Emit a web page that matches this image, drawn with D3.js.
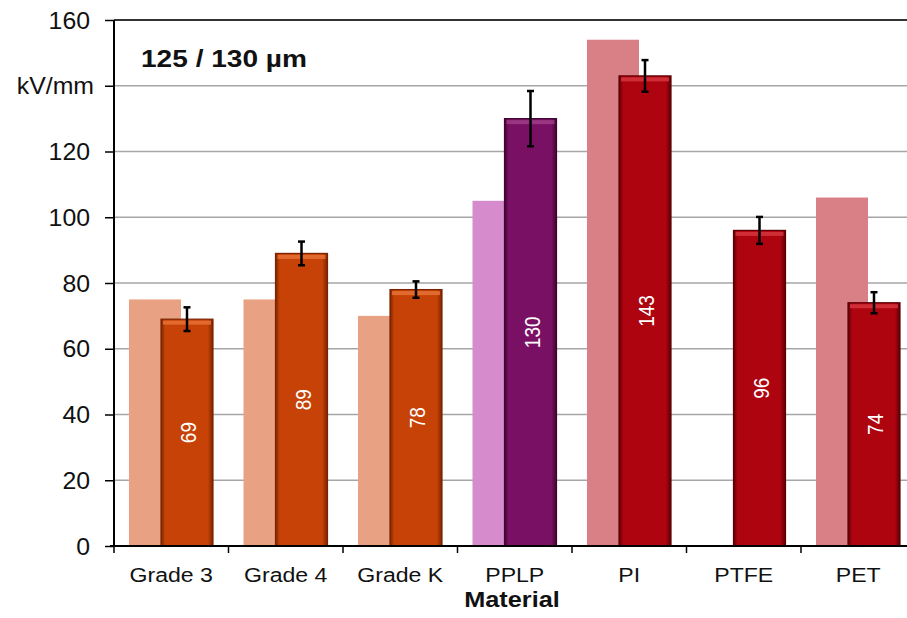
<!DOCTYPE html>
<html><head><meta charset="utf-8">
<script src="https://cdn.jsdelivr.net/npm/d3@7"></script>
<style>body{margin:0;background:#fff}svg{display:block}text{font-family:"Liberation Sans",Arial,sans-serif}</style>
</head><body><svg id="c" width="907" height="618"></svg>
<script>
const categories = ["Grade 3","Grade 4","Grade K","PPLP","PI","PTFE","PET"];
const refValues = [75,75,70,105,154,null,106];
const values = [69,89,78,130,143,96,74];
const errors = [3.6,3.6,2.5,8.4,4.8,4.1,3.2];
const yTicks = [0,20,40,60,80,100,120,140,160];
const yTickLabels = ["0","20","40","60","80","100","120","kV/mm","160"];
const groups = ["grade","grade","grade","pplp","red","red","red"];
const palette = {
  grade:{light:"#e8a283",dark:"#c64206",edge:"#7a2402",hi:"#e8743a"},
  pplp:{light:"#d68bcc",dark:"#7a1064",edge:"#40052f",hi:"#a04088"},
  red:{light:"#d97f86",dark:"#ad0410",edge:"#5c0006",hi:"#d83a40"}
};

const svg = d3.select("#c");
const x = d3.scaleBand().domain(categories).range([114, 114+7*114.5]).padding(0);
const y = d3.scaleLinear().domain([0,160]).range([546,20]);

const defs = svg.append("defs");
Object.entries(palette).forEach(([k,p])=>{
  const g = defs.append("linearGradient").attr("id","g_"+k).attr("x1","0").attr("x2","1").attr("y1","0").attr("y2","0");
  g.append("stop").attr("offset","0").attr("stop-color",p.edge);
  g.append("stop").attr("offset","0.08").attr("stop-color",p.dark);
  g.append("stop").attr("offset","0.9").attr("stop-color",p.dark);
  g.append("stop").attr("offset","1").attr("stop-color",p.edge);
});

// gridlines
svg.append("g").selectAll("line").data(yTicks.filter(d=>d>0 && d<160)).join("line")
  .attr("x1",114).attr("x2",907).attr("y1",d=>y(d)).attr("y2",d=>y(d))
  .attr("stroke","#a6a6a6").attr("stroke-width",1.5);
svg.append("line").attr("x1",114).attr("x2",907).attr("y1",y(160)).attr("y2",y(160))
  .attr("stroke","#333").attr("stroke-width",2);

const bw = 52;
// reference bars
svg.append("g").selectAll("rect").data(categories.map((c,i)=>({c,v:refValues[i],g:groups[i]})).filter(d=>d.v!=null)).join("rect")
  .attr("x",d=>x(d.c)+15).attr("width",bw).attr("y",d=>y(d.v)).attr("height",d=>y(0)-y(d.v))
  .attr("fill",d=>palette[d.g].light);

// main bars
const data = categories.map((c,i)=>({c,v:values[i],e:errors[i],g:groups[i]}));
const bars = svg.append("g").selectAll("g").data(data).join("g");
bars.append("rect").attr("x",d=>x(d.c)+47).attr("width",bw).attr("y",d=>y(d.v)).attr("height",d=>y(0)-y(d.v))
  .attr("fill",d=>`url(#g_${d.g})`).attr("stroke",d=>palette[d.g].edge).attr("stroke-width",1.2);
bars.append("rect").attr("x",d=>x(d.c)+49).attr("width",bw-4).attr("y",d=>y(d.v)+1.5).attr("height",4)
  .attr("fill",d=>palette[d.g].hi).attr("opacity",0.8);
bars.append("text").attr("transform",d=>`translate(${x(d.c)+47+bw/2+9},${y(d.v/2)}) rotate(-90) scale(1,1.2)`)
  .attr("text-anchor","middle").attr("fill","#fff").attr("font-size",19).text(d=>d.v);

// error bars
const eb = svg.append("g").attr("stroke","#000").attr("stroke-width",2.5);
data.forEach(d=>{
  const cx = x(d.c)+47+bw/2;
  eb.append("line").attr("x1",cx).attr("x2",cx).attr("y1",y(d.v+d.e)).attr("y2",y(d.v-d.e));
  eb.append("line").attr("x1",cx-3.5).attr("x2",cx+3.5).attr("y1",y(d.v+d.e)).attr("y2",y(d.v+d.e));
  eb.append("line").attr("x1",cx-3.5).attr("x2",cx+3.5).attr("y1",y(d.v-d.e)).attr("y2",y(d.v-d.e));
});

// y axis
const ya = svg.append("g").attr("transform","translate(114,0)")
  .call(d3.axisLeft(y).tickValues(yTicks).tickSize(9).tickPadding(0).tickFormat((d,i)=>yTickLabels[i]));
ya.select(".domain").attr("stroke","#000").attr("stroke-width",2).attr("d","M0,20V546");
ya.selectAll(".tick line").attr("stroke","#000").attr("stroke-width",1.5);
ya.selectAll(".tick text").attr("font-size",23).attr("fill","#111").attr("font-family","Liberation Sans, Arial, sans-serif")
  .attr("x",null).attr("dy",null).attr("transform",(d,i)=>`translate(${yTickLabels[i]==="kV/mm"?-20:-24},${8})scale(1.08,1)`);

// x axis
svg.append("line").attr("x1",110).attr("x2",907).attr("y1",546).attr("y2",546).attr("stroke","#000").attr("stroke-width",2);
svg.append("g").selectAll("line").data(d3.range(8)).join("line")
  .attr("x1",i=>114+i*x.bandwidth()).attr("x2",i=>114+i*x.bandwidth()).attr("y1",546).attr("y2",553)
  .attr("stroke","#000").attr("stroke-width",1.5);
svg.append("g").selectAll("text").data(categories).join("text")
  .attr("transform",d=>`translate(${x(d)+x.bandwidth()/2},582) scale(1.1,1)`).attr("text-anchor","middle")
  .attr("font-size",21).attr("fill","#111").text(d=>d);

svg.append("text").attr("transform","translate(512,607) scale(1.15,1)").attr("text-anchor","middle").attr("font-size",22)
  .attr("font-weight","bold").attr("fill","#111").text("Material");
svg.append("text").attr("transform","translate(141,67) scale(1.17,1)").attr("font-size",24)
  .attr("font-weight","bold").attr("fill","#111").text("125 / 130 µm");
</script></body></html>
